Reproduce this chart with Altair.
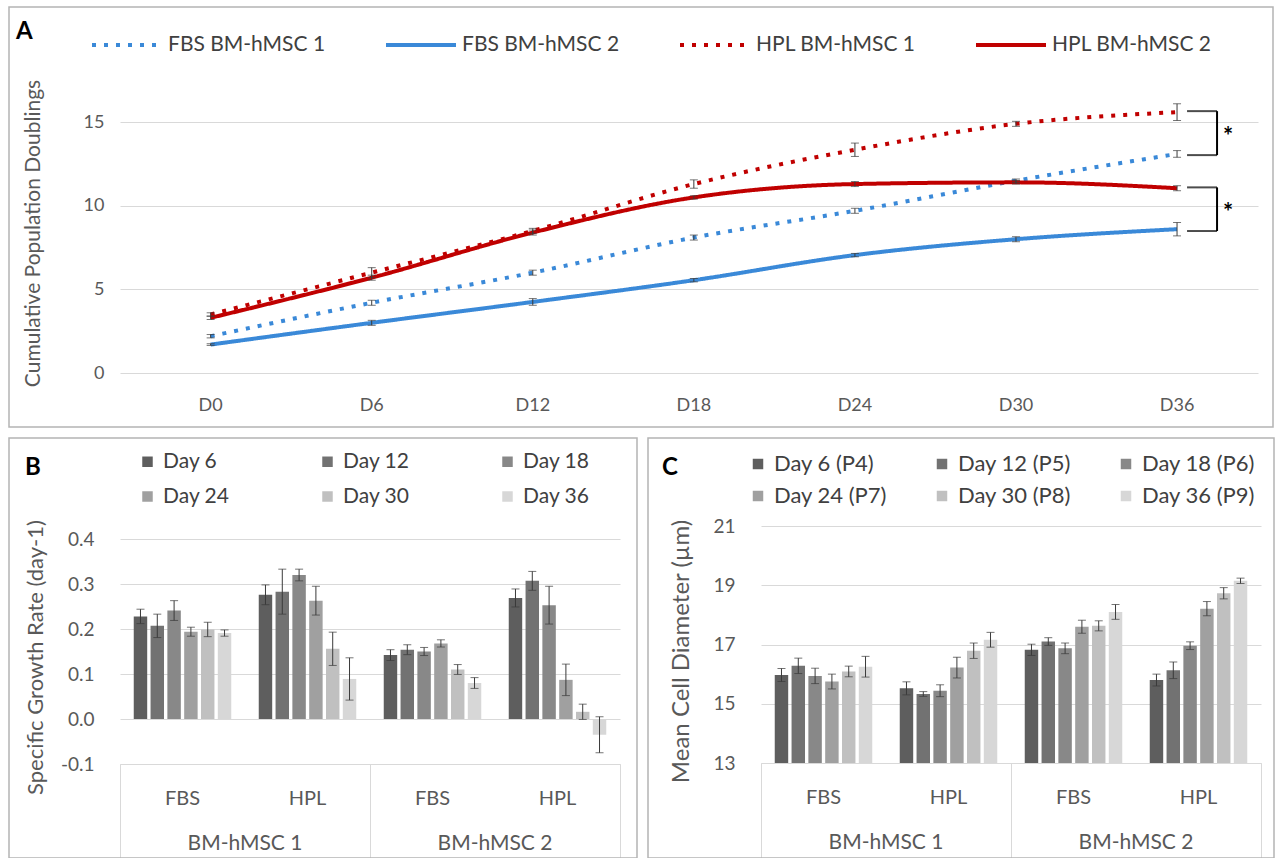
import altair as alt
import pandas as pd

# ---------------- data ----------------
days = ["D0", "D6", "D12", "D18", "D24", "D30", "D36"]
series_names = ["FBS BM-hMSC 1", "FBS BM-hMSC 2", "HPL BM-hMSC 1", "HPL BM-hMSC 2"]
fbs1 = [2.2, 4.2, 6.0, 8.1, 9.7, 11.5, 13.1]
fbs1_err = [0.1, 0.15, 0.15, 0.15, 0.15, 0.1, 0.2]
fbs2 = [1.7, 3.0, 4.25, 5.55, 7.05, 8.0, 8.6]
fbs2_err = [0.05, 0.15, 0.2, 0.1, 0.1, 0.15, 0.4]
hpl1 = [3.5, 6.0, 8.5, 11.3, 13.35, 14.9, 15.6]
hpl1_err = [0.1, 0.3, 0.15, 0.25, 0.4, 0.15, 0.5]
hpl2 = [3.3, 5.7, 8.4, 10.5, 11.3, 11.4, 11.05]
hpl2_err = [0.1, 0.15, 0.15, 0.1, 0.15, 0.1, 0.15]
sig_day = ["D36", "D36"]
sig_top = [15.66, 11.1]
sig_bottom = [13.03, 8.49]

groups = ["BM-hMSC 1|FBS", "BM-hMSC 1|HPL", "BM-hMSC 2|FBS", "BM-hMSC 2|HPL"]
cell_lines = ["BM-hMSC 1", "BM-hMSC 2"]

days_b = ["Day 6", "Day 12", "Day 18", "Day 24", "Day 30", "Day 36"]
sgr_bm1_fbs = [0.228, 0.207, 0.241, 0.194, 0.199, 0.191]
sgr_bm1_fbs_err = [0.016, 0.026, 0.022, 0.010, 0.016, 0.007]
sgr_bm1_hpl = [0.276, 0.283, 0.320, 0.263, 0.156, 0.089]
sgr_bm1_hpl_err = [0.022, 0.050, 0.013, 0.032, 0.037, 0.047]
sgr_bm2_fbs = [0.142, 0.154, 0.150, 0.168, 0.110, 0.080]
sgr_bm2_fbs_err = [0.012, 0.011, 0.009, 0.008, 0.011, 0.012]
sgr_bm2_hpl = [0.269, 0.307, 0.253, 0.087, 0.016, -0.035]
sgr_bm2_hpl_err = [0.020, 0.021, 0.042, 0.035, 0.017, 0.040]

days_c = ["Day 6 (P4)", "Day 12 (P5)", "Day 18 (P6)", "Day 24 (P7)", "Day 30 (P8)", "Day 36 (P9)"]
dia_bm1_fbs = [15.97, 16.28, 15.94, 15.75, 16.09, 16.25]
dia_bm1_fbs_err = [0.22, 0.26, 0.26, 0.25, 0.18, 0.35]
dia_bm1_hpl = [15.52, 15.33, 15.44, 16.22, 16.79, 17.16]
dia_bm1_hpl_err = [0.22, 0.08, 0.20, 0.35, 0.26, 0.25]
dia_bm2_fbs = [16.82, 17.10, 16.87, 17.60, 17.63, 18.10]
dia_bm2_fbs_err = [0.19, 0.13, 0.18, 0.22, 0.17, 0.25]
dia_bm2_hpl = [15.80, 16.13, 16.96, 18.21, 18.73, 19.15]
dia_bm2_hpl_err = [0.20, 0.28, 0.13, 0.24, 0.19, 0.09]

# ---------------- style ----------------
FONT = "Lato"
TXT = "#595959"
LEG = "#404040"
GRID = "#d9d9d9"
FRAME = "#b4b4b4"
BLUE = "#3a89d8"
RED = "#c00000"
GRAYS = ["#5e5e5e", "#727272", "#888888", "#a0a0a0", "#c0c0c0", "#d7d7d7"]
ERR = "#3a3a3a"


def one_row():
    return pd.DataFrame({"k": [0]})


def frame_layer(x1, x2, y1, y2):
    return alt.Chart(one_row()).mark_rect(
        fill="transparent", stroke=FRAME, strokeWidth=1.5
    ).encode(x=alt.value(x1), x2=alt.value(x2), y=alt.value(y1), y2=alt.value(y2))


def letter_layer(letter, x, y):
    return alt.Chart(one_row()).mark_text(
        text=letter, font=FONT, fontSize=24, fontWeight="bold", color="black",
        align="left", baseline="middle"
    ).encode(x=alt.value(x), y=alt.value(y))


# ---------------- panel A ----------------
rowsA = []
for name, vals, errs in zip(series_names, [fbs1, fbs2, hpl1, hpl2],
                            [fbs1_err, fbs2_err, hpl1_err, hpl2_err]):
    for d, v, e in zip(days, vals, errs):
        rowsA.append({"day": d, "series": name, "value": v, "lo": v - e, "hi": v + e})
dfA = pd.DataFrame(rowsA)
dfS = pd.DataFrame({"day": sig_day, "top": sig_top, "bottom": sig_bottom})

WA, HA = 1138, 301
axA_x = alt.Axis(title=None, labelAngle=0, labelFont=FONT, labelFontSize=18, labelColor=TXT,
                 labelPadding=32, labelBaseline="middle", ticks=False, domain=False, grid=False)
scA_x = alt.Scale(type="band", domain=days, paddingInner=0, paddingOuter=0.0327, align=0.96)
scA_y = alt.Scale(domain=[0, 18], nice=False)
axA_y = alt.Axis(values=[0, 5, 10, 15], title="Cumulative Population Doublings",
                 titleFont=FONT, titleFontSize=21, titleFontWeight="normal", titleColor=TXT,
                 titleX=-81, titleY=161, titleAngle=270, titleBaseline="alphabetic",
                 labelFont=FONT, labelFontSize=18, labelColor=TXT, labelPadding=16,
                 ticks=False, domain=False, grid=True, gridColor=GRID, gridWidth=1)


def xa(field="day"):
    return alt.X(f"{field}:O", scale=scA_x, axis=axA_x)


def ya(field):
    return alt.Y(f"{field}:Q", scale=scA_y, axis=axA_y)


legA = alt.Legend(orient="none", legendX=-30, legendY=-64, direction="horizontal", columns=4,
                  columnPadding=52, symbolType="stroke", symbolSize=4900, symbolStrokeWidth=4,
                  labelFont=FONT, labelFontSize=21, labelColor=LEG, labelLimit=400, title=None)

lines = alt.Chart(dfA).mark_line(strokeWidth=4, interpolate="monotone").encode(
    x=xa(), y=ya("value"),
    color=alt.Color("series:N", scale=alt.Scale(domain=series_names, range=[BLUE, BLUE, RED, RED]),
                    legend=legA),
    strokeDash=alt.StrokeDash("series:N",
                              scale=alt.Scale(domain=series_names,
                                              range=[[4, 8], [1, 0], [4, 8], [1, 0]]),
                              legend=legA),
)
errA = alt.Chart(dfA).mark_rule(color=ERR, strokeWidth=1).encode(x=xa(), y=ya("lo"), y2="hi:Q")
capA_lo = alt.Chart(dfA).mark_tick(color=ERR, thickness=1, size=8).encode(x=xa(), y=ya("lo"))
capA_hi = alt.Chart(dfA).mark_tick(color=ERR, thickness=1, size=8).encode(x=xa(), y=ya("hi"))

br_top = alt.Chart(dfS).mark_tick(color="black", thickness=2, size=30, xOffset=25).encode(
    x=xa(), y=ya("top"))
br_bot = alt.Chart(dfS).mark_tick(color="black", thickness=2, size=30, xOffset=25).encode(
    x=xa(), y=ya("bottom"))
br_vert = alt.Chart(dfS).mark_rule(color="black", strokeWidth=2, xOffset=40).encode(
    x=xa(), y=ya("top"), y2="bottom:Q")
star = alt.Chart(dfS).transform_calculate(mid="(datum.top + datum.bottom) / 2").mark_text(
    text="*", font=FONT, fontSize=24, fontWeight="bold", color="black", xOffset=51, dy=5,
    baseline="middle").encode(x=xa(), y=ya("mid"))

panelA = alt.layer(
    frame_layer(-111, WA + 15, -65, HA + 54),
    lines, errA, capA_lo, capA_hi, br_top, br_bot, br_vert, star,
    letter_layer("A", -104, -40),
).properties(width=WA, height=HA)


# ---------------- panels B & C ----------------
def bar_df(lists, errs, daylist):
    rows = []
    for g, vals, es in zip(groups, lists, errs):
        for d, v, e in zip(daylist, vals, es):
            rows.append({"group": g, "day": d, "value": v, "lo": v - e, "hi": v + e})
    return pd.DataFrame(rows)


def bar_panel(df, daylist, ydomain, baseline, yvalues, yfmt, ytitle, title_size, title_x, title_y,
              W, H, frame, letter, letter_xy, leg_x, leg_y, leg_colpad, leg_rowpad, leg_font):
    scx = alt.Scale(domain=groups, paddingInner=0.22, paddingOuter=0.11)
    axx = alt.Axis(title=None, labelExpr="split(datum.value, '|')[1]", labelAngle=0,
                   ticks=False, domain=True, domainColor=GRID, domainWidth=1,
                   labelPadding=34, labelBaseline="middle", labelFont=FONT, labelFontSize=20,
                   labelColor=TXT, grid=False)
    scy = alt.Scale(domain=ydomain, nice=False, zero=False)
    axy = alt.Axis(values=yvalues, labelExpr=yfmt, title=ytitle, titleFont=FONT,
                   titleFontSize=title_size, titleFontWeight="normal", titleColor=TXT,
                   titleX=title_x, titleY=title_y, titleAngle=270, titleBaseline="alphabetic",
                   labelFont=FONT, labelFontSize=19, labelColor=TXT, labelPadding=26,
                   ticks=False, domain=False, grid=True, gridColor=GRID, gridWidth=1)
    xo = alt.XOffset("day:N", scale=alt.Scale(domain=daylist, paddingInner=0.2, paddingOuter=0))

    def X():
        return alt.X("group:N", scale=scx, axis=axx)

    def Y(f):
        return alt.Y(f"{f}:Q", scale=scy, axis=axy)

    leg = alt.Legend(orient="none", legendX=leg_x, legendY=leg_y, direction="horizontal",
                     columns=3, columnPadding=leg_colpad, rowPadding=leg_rowpad,
                     symbolType="square", symbolSize=110, symbolStrokeWidth=0, labelFont=FONT,
                     labelFontSize=leg_font, labelColor=LEG, labelLimit=300, labelOffset=5,
                     title=None)
    bars = alt.Chart(df).mark_bar().encode(
        x=X(), xOffset=xo, y=Y("value"), y2=alt.Y2(datum=baseline),
        color=alt.Color("day:N", scale=alt.Scale(domain=daylist, range=GRAYS), legend=leg),
    )
    err = alt.Chart(df).mark_rule(color=ERR, strokeWidth=1).encode(
        x=X(), xOffset=xo, y=Y("lo"), y2="hi:Q")
    cap_lo = alt.Chart(df).mark_tick(color=ERR, thickness=1, size=8).encode(
        x=X(), xOffset=xo, y=Y("lo"))
    cap_hi = alt.Chart(df).mark_tick(color=ERR, thickness=1, size=8).encode(
        x=X(), xOffset=xo, y=Y("hi"))

    cells = alt.Chart(pd.DataFrame({"cell": cell_lines})).mark_text(
        font=FONT, fontSize=21, color=TXT, baseline="middle").encode(
        x=alt.X("cell:N", scale=alt.Scale(domain=cell_lines, paddingInner=0, paddingOuter=0),
                axis=alt.Axis(orient="bottom", title=None, labels=False, domain=False,
                              ticks=True, tickBand="extent", tickSize=frame[3] - H,
                              tickColor=GRID, tickWidth=1, grid=False)),
        y=alt.value(H + 80),
        text="cell:N",
    )
    inner = alt.layer(frame_layer(*frame), bars, err, cap_lo, cap_hi,
                      letter_layer(letter, *letter_xy))
    return alt.layer(inner, cells).resolve_scale(x="independent").properties(width=W, height=H)


dfB = bar_df([sgr_bm1_fbs, sgr_bm1_hpl, sgr_bm2_fbs, sgr_bm2_hpl],
             [sgr_bm1_fbs_err, sgr_bm1_hpl_err, sgr_bm2_fbs_err, sgr_bm2_hpl_err], days_b)
dfC = bar_df([dia_bm1_fbs, dia_bm1_hpl, dia_bm2_fbs, dia_bm2_hpl],
             [dia_bm1_fbs_err, dia_bm1_hpl_err, dia_bm2_fbs_err, dia_bm2_hpl_err], days_c)

# panel B: plot top shared with panel C (row alignment), so the y range runs a little above 0.4
WB, HB = 500, 238
panelB = bar_panel(dfB, days_b, [-0.1, 0.4289], 0, [-0.1, 0.0, 0.1, 0.2, 0.3, 0.4],
                   "replace(format(datum.value, '.1f'), '\u2212', '-')",
                   "Specific Growth Rate (day-1)", 22, -78, 131,
                   WB, HB, (-111, WB + 17, -88, HB + 94), "B", (-95, -58),
                   17, -75, 87, 13, 21)

WC, HC = 500, 237
panelC = bar_panel(dfC, days_c, [13, 21], 13, [13, 15, 17, 19, 21],
                   "format(datum.value, 'd')",
                   "Mean Cell Diameter (\u00b5m)", 24, -73, 125,
                   WC, HC, (-113, WC + 13, -88, HC + 95), "C", (-99, -58),
                   -14, -73, 44, 10, 22)

bottom = alt.hconcat(panelB, panelC, spacing=9).resolve_scale(
    x="independent", y="independent", color="independent", xOffset="independent")

chart = alt.vconcat(panelA, bottom, spacing=9).resolve_scale(
    x="independent", y="independent", color="independent", strokeDash="independent"
).properties(
    padding={"left": 8, "top": 6, "right": 3, "bottom": 0},
    background="white",
).configure_view(strokeWidth=0)

chart.save("out.html", embed_options={"renderer": "svg", "actions": False})
